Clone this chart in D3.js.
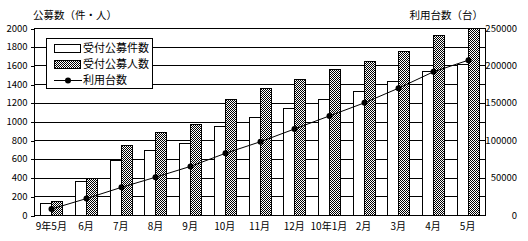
<!DOCTYPE html>
<html>
<head>
<meta charset="utf-8">
<script src="https://cdn.jsdelivr.net/npm/d3@7"></script>
<style>
  body { margin: 0; background: #fff; }
  svg { display: block; }
  .num { font-family: "Liberation Sans Narrow", "Noto Sans CJK JP", sans-serif; font-size: 9.5px; }
  .cjk { font-family: "Noto Sans CJK JP", sans-serif; }
</style>
</head>
<body>
<svg id="chart"></svg>
<script>
const svgWidth = 528;
const svgHeight = 241;
const margin = { top: 28, right: 43, bottom: 26, left: 34 };
const width = svgWidth - margin.left - margin.right;
const height = svgHeight - margin.top - margin.bottom;

// data
const months = ["9年5月", "6月", "7月", "8月", "9月", "10月", "11月", "12月", "10年1月", "2月", "3月", "4月", "5月"];
const applications = [125, 360, 590, 700, 770, 950, 1050, 1140, 1240, 1330, 1430, 1540, 1620];
const applicants = [150, 400, 750, 890, 975, 1240, 1360, 1450, 1560, 1650, 1750, 1930, 2050];
const usage = [8000, 22000, 37000, 50500, 65000, 82500, 98000, 115000, 132500, 150000, 169500, 191500, 207000];
const leftTicks = [0, 200, 400, 600, 800, 1000, 1200, 1400, 1600, 1800, 2000];
const rightTicks = [0, 50000, 100000, 150000, 200000, 250000];
const seriesNames = ["受付公募件数", "受付公募人数", "利用台数"];

const svg = d3.select("#chart")
    .attr("width", svgWidth)
    .attr("height", svgHeight);

// hatch pattern for the second series
const defs = svg.append("defs");
const pat = defs.append("pattern")
    .attr("id", "hatch")
    .attr("width", 2).attr("height", 2)
    .attr("patternUnits", "userSpaceOnUse");
pat.append("rect").attr("width", 2).attr("height", 2).attr("fill", "#fff");
pat.append("rect").attr("width", 1).attr("height", 1).attr("fill", "#000");
pat.append("rect").attr("x", 1).attr("y", 1).attr("width", 1).attr("height", 1).attr("fill", "#000");

defs.append("clipPath").attr("id", "plotclip")
  .append("rect").attr("x", 0).attr("y", 0).attr("width", width).attr("height", height);

const chart = svg.append("g")
    .attr("transform", `translate(${margin.left},${margin.top})`);

const xScale = d3.scaleBand().domain(months).range([0, width]).padding(0);
const yLeft = d3.scaleLinear().domain([0, 2000]).range([height, 0]);
const yRight = d3.scaleLinear().domain([0, 250000]).range([height, 0]);
const barW = 11;
const cx = d => Math.round(xScale(d) + xScale.bandwidth() / 2);

// gridlines
chart.selectAll(".grid")
    .data(leftTicks.slice(1))
    .enter().append("line")
    .attr("x1", 0).attr("x2", width)
    .attr("y1", d => Math.round(yLeft(d)) + 0.5)
    .attr("y2", d => Math.round(yLeft(d)) + 0.5)
    .attr("stroke", "#000")
    .attr("shape-rendering", "crispEdges");

const bars = chart.append("g").attr("clip-path", "url(#plotclip)");

// white bars
bars.selectAll(".b1")
    .data(months)
    .enter().append("rect")
    .attr("x", (d, i) => cx(d) - barW + 0.5)
    .attr("y", (d, i) => Math.round(yLeft(applications[i])) + 0.5)
    .attr("width", barW)
    .attr("height", (d, i) => height - Math.round(yLeft(applications[i])))
    .attr("fill", "#fff")
    .attr("stroke", "#000")
    .attr("shape-rendering", "crispEdges");

// hatched bars
bars.selectAll(".b2")
    .data(months)
    .enter().append("rect")
    .attr("x", (d, i) => cx(d) + 0.5)
    .attr("y", (d, i) => Math.round(yLeft(applicants[i])) + 0.5)
    .attr("width", barW)
    .attr("height", (d, i) => height - Math.round(yLeft(applicants[i])) + 2)
    .attr("fill", "url(#hatch)")
    .attr("stroke", "#000")
    .attr("shape-rendering", "crispEdges");

// usage line
const line = d3.line()
    .x((d, i) => cx(months[i]) + 0.5)
    .y(d => yRight(d));

chart.append("path")
    .datum(usage)
    .attr("d", line)
    .attr("fill", "none")
    .attr("stroke", "#000")
    .attr("stroke-width", 1);

chart.selectAll(".pt")
    .data(usage)
    .enter().append("circle")
    .attr("cx", (d, i) => cx(months[i]) + 0.5)
    .attr("cy", d => yRight(d))
    .attr("r", 3)
    .attr("fill", "#000");

// plot frame
chart.append("rect")
    .attr("x", 0.5).attr("y", 0.5)
    .attr("width", width).attr("height", height)
    .attr("fill", "none")
    .attr("stroke", "#000")
    .attr("shape-rendering", "crispEdges");

// left axis
const yAxisLeft = d3.axisLeft(yLeft).tickValues(leftTicks).tickSize(4).tickSizeOuter(0)
    .tickFormat(d3.format("d"));
const gl = chart.append("g").attr("transform", "translate(0.5,0)").call(yAxisLeft);
gl.select(".domain").remove();
gl.selectAll("line").attr("shape-rendering", "crispEdges")
    .attr("transform", "translate(0,0.5)");
gl.selectAll("text").attr("class", "num").attr("x", -7).attr("fill", "#000");

// right axis
const yAxisRight = d3.axisRight(yRight).tickValues(rightTicks).tickSize(0)
    .tickFormat(d3.format("d"));
const gr = chart.append("g").attr("transform", `translate(${width},0)`).call(yAxisRight);
gr.select(".domain").remove();
gr.selectAll("text").attr("class", "num")
    .attr("text-anchor", "end")
    .attr("x", 517 - margin.left - width)
    .attr("fill", "#000");

// bottom axis
const xAxis = d3.axisBottom(xScale).tickSize(0);
const gx = chart.append("g").attr("transform", `translate(0,${height})`).call(xAxis);
gx.select(".domain").remove();
gx.selectAll("text").attr("class", "num").style("font-size", "10px")
    .attr("y", 8).attr("fill", "#000");

// axis titles
svg.append("text")
    .attr("class", "cjk")
    .attr("x", 33).attr("y", 19)
    .style("font-size", "10.5px")
    .text("公募数（件・人）");

svg.append("text")
    .attr("class", "cjk")
    .attr("x", 483).attr("y", 19)
    .attr("text-anchor", "end")
    .style("font-size", "10.5px")
    .text("利用台数（台）");

// legend
const legend = svg.append("g").attr("transform", "translate(46,38)");
legend.append("rect")
    .attr("x", 0.5).attr("y", 0.5)
    .attr("width", 106).attr("height", 50)
    .attr("fill", "#fff").attr("stroke", "#000")
    .attr("shape-rendering", "crispEdges");

const rows = [10.5, 26.5, 42.5];
legend.append("rect")
    .attr("x", 8.5).attr("y", rows[0] - 4).attr("width", 26).attr("height", 8)
    .attr("fill", "#fff").attr("stroke", "#000").attr("shape-rendering", "crispEdges");
legend.append("rect")
    .attr("x", 8.5).attr("y", rows[1] - 4).attr("width", 26).attr("height", 8)
    .attr("fill", "url(#hatch)").attr("stroke", "#000").attr("shape-rendering", "crispEdges");
legend.append("line")
    .attr("x1", 8).attr("x2", 36).attr("y1", rows[2]).attr("y2", rows[2])
    .attr("stroke", "#000").attr("shape-rendering", "crispEdges");
legend.append("circle").attr("cx", 22).attr("cy", rows[2]).attr("r", 3).attr("fill", "#000");

legend.selectAll(".lt")
    .data(seriesNames)
    .enter().append("text")
    .attr("class", "cjk")
    .attr("x", 37)
    .attr("y", (d, i) => rows[i])
    .attr("dy", "0.36em")
    .style("font-size", "11px")
    .text(d => d);
</script>
</body>
</html>
